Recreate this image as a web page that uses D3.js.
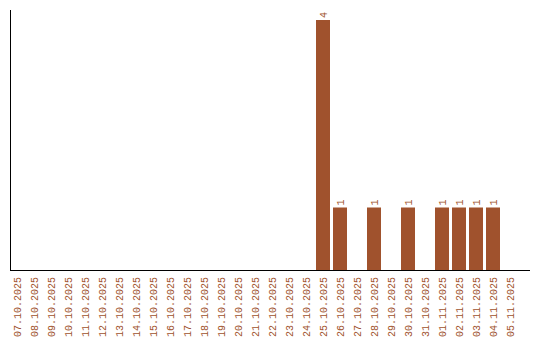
<!DOCTYPE html>
<html><head><meta charset="utf-8">
<script src="https://cdn.jsdelivr.net/npm/d3@7/dist/d3.min.js"></script>
<style>body{margin:0;background:#fff}</style>
</head><body>
<svg id="c" width="540" height="340"></svg>
<script>
const dates = ["07.10.2025","08.10.2025","09.10.2025","10.10.2025","11.10.2025","12.10.2025","13.10.2025","14.10.2025","15.10.2025","16.10.2025","17.10.2025","18.10.2025","19.10.2025","20.10.2025","21.10.2025","22.10.2025","23.10.2025","24.10.2025","25.10.2025","26.10.2025","27.10.2025","28.10.2025","29.10.2025","30.10.2025","31.10.2025","01.11.2025","02.11.2025","03.11.2025","04.11.2025","05.11.2025"];
const counts = [0,0,0,0,0,0,0,0,0,0,0,0,0,0,0,0,0,0,4,1,0,1,0,1,0,1,1,1,1,0];

(function(){
const color = "#A0522D";
const svg = d3.select("#c");
const mLeft = 10, mBottom = 270, mTop = 10, mRight = 530;
const step = 17;
const pi = 3/17;
const x = d3.scaleBand().domain(dates).range([mLeft, mLeft + step*dates.length]).paddingInner(pi).paddingOuter(pi/2).align(0);
const y = d3.scaleLinear().domain([0, 4]).range([mBottom, 20]);

const data = dates.map((d,i)=>({d, v: counts[i]}));
const font = "'Liberation Mono', 'Courier New', monospace";

svg.selectAll("rect.bar").data(data.filter(e=>e.v>0)).join("rect")
  .attr("x", e=>x(e.d)).attr("y", e=>y(e.v))
  .attr("width", x.bandwidth()).attr("height", e=>mBottom - y(e.v))
  .attr("fill", color);

svg.selectAll("text.val").data(data.filter(e=>e.v>0)).join("text")
  .attr("transform", e=>`translate(${x(e.d)+x.bandwidth()/2},${y(e.v)-2}) rotate(-90)`)
  .attr("dy","0.35em")
  .attr("font-family",font)
  .attr("font-size",10)
  .attr("fill",color)
  .text(e=>e.v);

svg.selectAll("text.tick").data(dates).join("text")
  .attr("transform", d=>`translate(${x(d)+x.bandwidth()/2},277) rotate(-90)`)
  .attr("dy","0.35em")
  .attr("text-anchor","end")
  .attr("font-family",font)
  .attr("font-size",10)
  .attr("fill",color)
  .text(d=>d);

svg.append("line").attr("x1",mLeft+0.5).attr("x2",mLeft+0.5).attr("y1",mTop).attr("y2",mBottom+0.5)
  .attr("stroke","#000").attr("stroke-width",1);
svg.append("line").attr("x1",mLeft).attr("x2",mRight).attr("y1",mBottom+0.5).attr("y2",mBottom+0.5)
  .attr("stroke","#000").attr("stroke-width",1);
})();
</script>
</body></html>
